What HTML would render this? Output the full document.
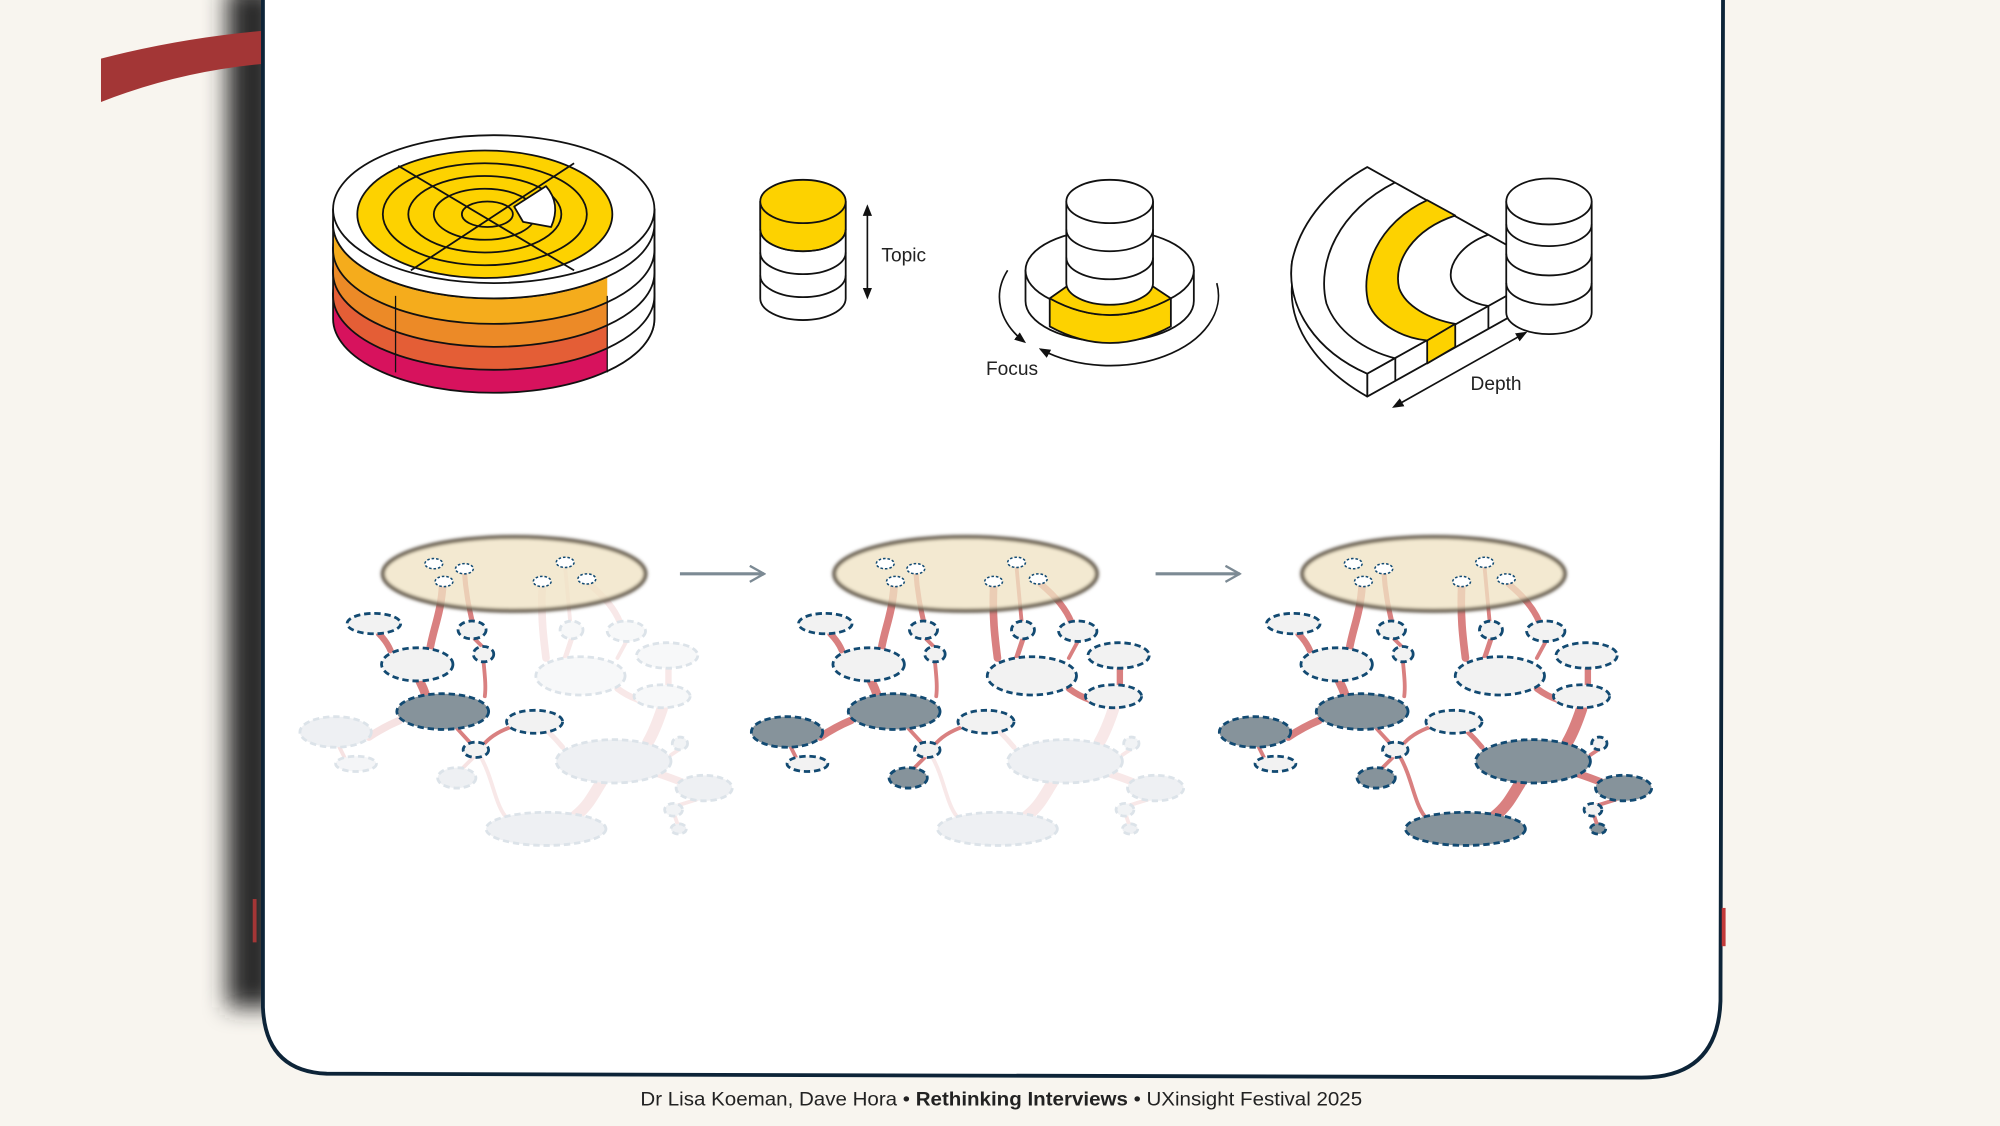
<!DOCTYPE html>
<html><head><meta charset="utf-8">
<style>
html,body{margin:0;padding:0;background:#f8f5ef;}
svg{display:block}
.l{fill:var(--lf);stroke:var(--st);stroke-width:2.2;stroke-dasharray:5 3}
.d{fill:var(--df);stroke:var(--st);stroke-width:2.2;stroke-dasharray:5 3}
.e{fill:none;stroke:var(--ec);stroke-linecap:round}
.k{stroke:#111;stroke-width:1.4;stroke-linejoin:round}
.t{font-family:"Liberation Sans",sans-serif;font-size:15px;fill:#222}
</style></head><body>
<svg width="2000" height="1126" viewBox="0 0 1568 883" xmlns="http://www.w3.org/2000/svg">
<defs>
<filter id="bl" x="-50%" y="-10%" width="200%" height="120%"><feGaussianBlur stdDeviation="9"/></filter>
<filter id="bl2"><feGaussianBlur stdDeviation="1.2"/></filter>
<clipPath id="rc"><rect x="476" y="100" width="50" height="230"/></clipPath>
<marker id="ah" viewBox="0 0 10 10" refX="8" refY="5" markerWidth="7" markerHeight="7" orient="auto-start-reverse"><path d="M0,1 L10,5 L0,9 Z" fill="#111"/></marker>
<marker id="ga" viewBox="0 0 10 10" refX="9" refY="5" markerWidth="14" markerHeight="14" orient="auto" markerUnits="userSpaceOnUse"><path d="M1,0.5 L9,5 L1,9.5" fill="none" stroke="#7c8a94" stroke-width="1.3"/></marker>

<g id="core">
  <path class="e" stroke-width="6" d="M701,458 C700,480 693,495 691,509"/>
  <path class="e" stroke-width="4" d="M718,448 C719,465 722,478 724,487"/>
  <path class="e" stroke-width="3" d="M726,501 L732,507"/>
  <path class="e" stroke-width="3" d="M733,519 C734,530 735,538 734,546"/>
  <path class="e" stroke-width="5" d="M651,497 Q657,503 660,510"/>
  <path class="e" stroke-width="7" d="M683,534 Q686,540 688,546"/>
  <path class="e" stroke-width="3" d="M712,571 L723,583"/>
  <path class="e" stroke-width="3" d="M732,585 Q740,575 755,570"/>
  <ellipse cx="757" cy="450" rx="103" ry="29" fill="#efe3c4" fill-opacity="0.78" stroke="#5b5142" stroke-width="3" filter="url(#bl2)"/>
  <g fill="#fff" stroke="#124a72" stroke-width="1.2" stroke-dasharray="2 1.5">
    <ellipse cx="694" cy="442" rx="7" ry="4"/><ellipse cx="718" cy="446" rx="7" ry="4"/><ellipse cx="702" cy="456" rx="7" ry="4"/>
    <ellipse cx="797" cy="441" rx="7" ry="4"/><ellipse cx="779" cy="456" rx="7" ry="4"/><ellipse cx="814" cy="454" rx="7" ry="4"/>
  </g>
  <ellipse class="l" cx="647" cy="489" rx="21" ry="8"/>
  <ellipse class="l" cx="724" cy="494" rx="11" ry="7"/>
  <ellipse class="l" cx="733" cy="513" rx="8" ry="6"/>
  <ellipse class="l" cx="681" cy="521" rx="28" ry="13"/>
  <ellipse class="d" cx="701" cy="558" rx="36" ry="14"/>
  <ellipse class="l" cx="773" cy="566" rx="22" ry="9"/>
  <ellipse class="l" cx="727" cy="588" rx="10" ry="6"/>
</g>
<g id="left">
  <path class="e" stroke-width="6" d="M643,578 Q655,570 667,565"/>
  <path class="e" stroke-width="3" d="M620,586 L624,594"/>
  <path class="e" stroke-width="3" d="M725,594 L716,603"/>
  <ellipse class="d" cx="617" cy="574" rx="28" ry="12"/>
  <ellipse class="l" cx="633" cy="599" rx="16" ry="6"/>
  <ellipse class="d" cx="712" cy="610" rx="15" ry="8"/>
</g>
<g id="right">
  <path class="e" stroke-width="6" d="M779,460 C778,485 780,500 782,516"/>
  <path class="e" stroke-width="3" d="M797,445 L801,488"/>
  <path class="e" stroke-width="4" d="M802,501 L797,516"/>
  <path class="e" stroke-width="5" d="M816,458 C828,468 836,478 840,488"/>
  <path class="e" stroke-width="3" d="M845,503 L838,516"/>
  <path class="e" stroke-width="5" d="M878,524 L878,538"/>
  <path class="e" stroke-width="5" d="M838,540 Q846,546 855,549"/>
  <ellipse class="l" cx="802" cy="494" rx="9" ry="7"/>
  <ellipse class="l" cx="845" cy="495" rx="15" ry="8"/>
  <ellipse class="l" cx="809" cy="530" rx="35" ry="15"/>
  <ellipse class="l" cx="877" cy="514" rx="24" ry="10"/>
  <ellipse class="l" cx="873" cy="546" rx="22" ry="9"/>
</g>
<g id="bottom">
  <path class="e" stroke-width="9" d="M873,556 C870,565 866,575 862,582"/>
  <path class="e" stroke-width="4" d="M784,574 Q790,580 795,586"/>
  <path class="e" stroke-width="9" d="M825,614 C818,625 815,632 805,640"/>
  <path class="e" stroke-width="3" d="M731,594 C740,610 742,630 750,640"/>
  <path class="e" stroke-width="6" d="M868,606 Q880,610 890,614"/>
  <path class="e" stroke-width="3" d="M880,592 L886,588"/>
  <path class="e" stroke-width="3" d="M900,627 L884,632"/>
  <path class="e" stroke-width="3" d="M883,640 L885,646"/>
  <ellipse class="d" cx="835" cy="597" rx="45" ry="17"/>
  <ellipse class="d" cx="782" cy="650" rx="47" ry="13"/>
  <ellipse class="d" cx="906" cy="618" rx="22" ry="10"/>
  <ellipse class="l" cx="887" cy="583" rx="6" ry="5"/>
  <ellipse class="l" cx="882" cy="635" rx="7" ry="5"/>
  <ellipse class="d" cx="886" cy="650" rx="6" ry="4"/>
</g>
</defs>

<rect width="1568" height="883" fill="#f8f5ef"/>
<rect x="178" y="-10" width="40" height="800" fill="#2b2b2b" filter="url(#bl)"/>
<path d="M79,46 Q140,30 207,24 L207,50 Q140,56 79,80 Z" fill="#a33636"/>
<path d="M206,-5 L1351,-5 L1349,785 Q1347,845 1287,845 L256,842 Q208,840 206,790 Z" fill="#fff" stroke="#0d2438" stroke-width="3"/>
<rect x="198" y="705" width="3" height="34" fill="#a33636"/>
<rect x="1350" y="712" width="3" height="30" fill="#c23a3a"/>

<!-- left layered stack -->
<g class="k">
  <path d="M261,230 L261,250 A126,58 0 0 0 513,250 L513,230 Z" fill="#d7125d"/>
  <ellipse cx="387" cy="230" rx="126" ry="58" fill="#d7125d"/>
  <path d="M261,212 L261,232 A126,58 0 0 0 513,232 L513,212 Z" fill="#e45e36"/>
  <ellipse cx="387" cy="212" rx="126" ry="58" fill="#e45e36"/>
  <path d="M261,194 L261,214 A126,58 0 0 0 513,214 L513,194 Z" fill="#ec8a27"/>
  <ellipse cx="387" cy="194" rx="126" ry="58" fill="#ec8a27"/>
  <path d="M261,176 L261,196 A126,58 0 0 0 513,196 L513,176 Z" fill="#f5ac1c"/>
  <ellipse cx="387" cy="176" rx="126" ry="58" fill="#f5ac1c"/>
  <g clip-path="url(#rc)">
    <path d="M261,164 L261,250 A126,58 0 0 0 513,250 L513,164 Z" fill="#fff"/>
    <path d="M261,196 A126,58 0 0 0 513,196 M261,214 A126,58 0 0 0 513,214 M261,232 A126,58 0 0 0 513,232" fill="none"/>
  </g>
  <path d="M261,164 L261,176 A126,58 0 0 0 513,176 L513,164 Z" fill="#fff"/>
  <ellipse cx="387" cy="164" rx="126" ry="58" fill="#fff"/>
  <ellipse cx="380" cy="168" rx="100" ry="50" fill="#fdd200"/>
  <ellipse cx="380" cy="168" rx="80" ry="40" fill="#fdd200"/>
  <ellipse cx="380" cy="168" rx="60" ry="30" fill="#fdd200"/>
  <ellipse cx="380" cy="168" rx="40" ry="20" fill="#fdd200"/>
  <ellipse cx="382" cy="168" rx="20" ry="10" fill="#fdd200"/>
  <path d="M403,162 L428,146 Q440,160 432,178 L410,174 Z" fill="#fff"/>
  <path d="M312,130 L450,212 M322,212 L450,128" fill="none"/>
  <path d="M310,232 L310,292 M476,232 L476,292" fill="none" stroke-width="1"/>
</g>

<!-- Topic cylinder -->
<g class="k">
  <path d="M596,158 L596,234 A33.5,17 0 0 0 663,234 L663,158 Z" fill="#fff"/>
  <path d="M596,158 L596,180 A33.5,17 0 0 0 663,180 L663,158 Z" fill="#fdd200"/>
  <ellipse cx="629.5" cy="158" rx="33.5" ry="17" fill="#fdd200"/>
  <path d="M596,180 A33.5,17 0 0 0 663,180 M596,198 A33.5,17 0 0 0 663,198 M596,216 A33.5,17 0 0 0 663,216" fill="none"/>
</g>
<line x1="680" y1="162" x2="680" y2="233" stroke="#111" stroke-width="1.3" marker-start="url(#ah)" marker-end="url(#ah)"/>
<text class="t" x="691" y="205">Topic</text>

<!-- Focus -->
<g class="k">
  <path d="M804,212 L804,236 A66,32 0 0 0 936,236 L936,212 Z" fill="#fff"/>
  <ellipse cx="870" cy="212" rx="66" ry="32" fill="#fff"/>
  <path d="M823,234 L823,256 Q870,282 918,256 L918,234 Q870,260 823,234 Z" fill="#fdd200"/>
  <path d="M823,234 L840,222 Q870,238 900,222 L918,234 Q870,260 823,234 Z" fill="#fdd200"/>
  <path d="M836,158 L836,222 A34,17 0 0 0 904,222 L904,158 Z" fill="#fff"/>
  <ellipse cx="870" cy="158" rx="34" ry="17" fill="#fff"/>
  <path d="M836,180 A34,17 0 0 0 904,180 M836,202 A34,17 0 0 0 904,202" fill="none"/>
</g>
<path d="M790,212 A85,55 0 0 0 803,268" fill="none" stroke="#111" stroke-width="1.3" marker-end="url(#ah)"/>
<path d="M954,222 A85,55 0 0 1 816,274" fill="none" stroke="#111" stroke-width="1.3" marker-end="url(#ah)"/>
<text class="t" x="773" y="294">Focus</text>

<!-- Depth -->
<g class="k">
  <path d="M1072,293 L1072,311 L1190,245 L1190,227 Z" fill="#fff"/>
  <path d="M1013,205 L1013,223 C1010,258 1035,290 1072,311 L1072,293 C1033,276 1008,242 1013,205 Z" fill="#fff"/>
  <path d="M1072,131 L1217,212 L1072,293 C1033,276 1008,242 1013,205 C1020,172 1045,146 1072,131 Z" fill="#fff"/>
  <path d="M1094,143 C1050,165 1032,205 1040,238 C1048,260 1070,275 1094,281" fill="none"/>
  <path d="M1119,157 C1080,175 1066,212 1073,238 C1080,255 1100,265 1119,267 L1141,254 C1120,250 1102,240 1097,226 C1092,205 1108,180 1141,169 Z" fill="#fdd200"/>
  <path d="M1167,184 C1145,192 1135,208 1138,220 C1142,232 1155,238 1167,240" fill="none"/>
  <path d="M1094,281 L1094,299 M1167,240 L1167,258" fill="none"/>
  <path d="M1119,267 L1119,285 L1141,272 L1141,254 Z" fill="#fdd200"/>
  <path d="M1181,158 L1181,245 A33.5,17 0 0 0 1248,245 L1248,158 Z" fill="#fff"/>
  <ellipse cx="1214.5" cy="158" rx="33.5" ry="18" fill="#fff"/>
  <path d="M1181,199 A33.5,17 0 0 0 1248,199 M1181,222 A33.5,17 0 0 0 1248,222 M1181,176 A33.5,17 0 0 0 1248,176" fill="none"/>
</g>
<line x1="1093" y1="319" x2="1196" y2="261" stroke="#111" stroke-width="1.3" marker-start="url(#ah)" marker-end="url(#ah)"/>
<text class="t" x="1153" y="306">Depth</text>

<line x1="533" y1="450" x2="599" y2="450" stroke="#7c8a94" stroke-width="2.5" marker-end="url(#ga)"/>
<line x1="906" y1="450" x2="972" y2="450" stroke="#7c8a94" stroke-width="2.5" marker-end="url(#ga)"/>

<g transform="translate(-354,0)">
  <use href="#bottom" style="--ec:#f8e8e8;--lf:#f1f3f5;--df:#eef0f3;--st:#dce3e9"/>
  <use href="#right" style="--ec:#f8e8e8;--lf:#f7f8f9;--df:#eef0f3;--st:#dce3e9"/>
  <use href="#left" style="--ec:#f6e2e2;--lf:#f4f5f7;--df:#eef0f3;--st:#dce3e9"/>
  <use href="#core" style="--ec:#d98080;--lf:#f2f2f2;--df:#86939b;--st:#124a72"/>
</g>
<use href="#bottom" style="--ec:#f8e8e8;--lf:#f1f3f5;--df:#eef0f3;--st:#dce3e9"/>
<use href="#left" style="--ec:#d98080;--lf:#f2f2f2;--df:#86939b;--st:#124a72"/>
<use href="#right" style="--ec:#d98080;--lf:#f2f2f2;--df:#86939b;--st:#124a72"/>
<use href="#core" style="--ec:#d98080;--lf:#f2f2f2;--df:#86939b;--st:#124a72"/>
<g transform="translate(367,0)">
  <use href="#bottom" style="--ec:#d98080;--lf:#f2f2f2;--df:#86939b;--st:#124a72"/>
  <use href="#left" style="--ec:#d98080;--lf:#f2f2f2;--df:#86939b;--st:#124a72"/>
  <use href="#right" style="--ec:#d98080;--lf:#f2f2f2;--df:#86939b;--st:#124a72"/>
  <use href="#core" style="--ec:#d98080;--lf:#f2f2f2;--df:#86939b;--st:#124a72"/>
</g>

<text x="502" y="867" font-family="'Liberation Sans',sans-serif" font-size="15.5" fill="#222" textLength="566" lengthAdjust="spacingAndGlyphs">Dr Lisa Koeman, Dave Hora • <tspan font-weight="bold">Rethinking Interviews</tspan> • UXinsight Festival 2025</text>
</svg>
</body></html>
